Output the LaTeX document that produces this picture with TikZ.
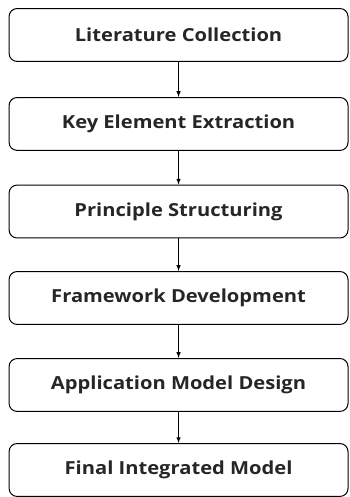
\documentclass[tikz,border=0pt]{standalone}
\usepackage{fontspec}
\setmainfont{Open Sans}[FakeStretch=1.12]
\usetikzlibrary{arrows,positioning}

\begin{document}
\begin{tikzpicture}[step box/.style={draw,rounded corners=8pt,line width=1pt,minimum width=11.92cm,minimum height=1.86cm,font=\fontsize{18}{21}\selectfont\bfseries,text=black!85},>=latex]
  \useasboundingbox (0,0) rectangle (12.31,-17.48);
  \node[step box] (lit) at (6.28,-1.23) {Literature Collection};
  \node[step box] (key) at (6.28,-4.36) {Key Element Extraction};
  \node[step box] (pri) at (6.28,-7.44) {Principle Structuring};
  \node[step box] (fra) at (6.28,-10.48) {Framework Development};
  \node[step box] (app) at (6.28,-13.54) {Application Model Design};
  \node[step box] (fin) at (6.28,-16.53) {Final Integrated Model};

  \draw[->,line width=1pt] (lit) -- (key);
  \draw[->,line width=1pt] (key) -- (pri);
  \draw[->,line width=1pt] (pri) -- (fra);
  \draw[->,line width=1pt] (fra) -- (app);
  \draw[->,line width=1pt] (app) -- (fin);
\end{tikzpicture}
\end{document}
